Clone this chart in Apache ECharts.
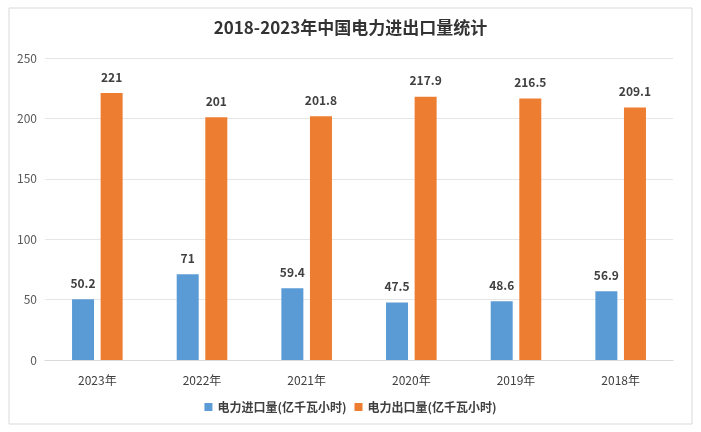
<!DOCTYPE html>
<html><head><meta charset="utf-8">
<script src="https://cdn.jsdelivr.net/npm/echarts@6/dist/echarts.min.js"></script>
<style>html,body{margin:0;padding:0;background:#fff}#c{width:701px;height:432px}</style>
</head><body><div id="c"></div>
<script>
const categories = ['2023年','2022年','2021年','2020年','2019年','2018年'];
const importVals = [50.2, 71, 59.4, 47.5, 48.6, 56.9];
const exportVals = [221, 201, 201.8, 217.9, 216.5, 209.1];
const seriesNames = ['电力进口量(亿千瓦小时)','电力出口量(亿千瓦小时)'];
const titleText = '2018-2023年中国电力进出口量统计';

const chart = echarts.init(document.getElementById('c'));
const font = '"Noto Sans CJK SC", sans-serif';
const lbl = {show:true, position:'top', distance:10, color:'#404040', fontWeight:'bold', fontSize:12, fontFamily:font};
chart.setOption({
  animation:false,
  graphic:[{type:'rect', shape:{x:9,y:8,width:683,height:416}, style:{fill:'none', stroke:'#d9d9d9', lineWidth:1}}],
  title:{text:titleText, left:'center', top:14, textStyle:{fontFamily:font, fontSize:17, fontWeight:'bold', color:'#333'}},
  legend:{bottom:14, left:'center', itemWidth:8, itemHeight:8, itemGap:8, icon:'rect',
    textStyle:{fontFamily:font, fontSize:12, fontWeight:'bold', color:'#404040'}},
  grid:{left:45, right:28, top:58, bottom:72, containLabel:false},
  xAxis:{type:'category', data:categories,
    axisLine:{lineStyle:{color:'#d9d9d9'}}, axisTick:{show:false},
    axisLabel:{color:'#404040', fontFamily:font, fontSize:12, margin:14}},
  yAxis:{type:'value', min:0, max:250, interval:50,
    axisLine:{show:false}, axisTick:{show:false},
    splitLine:{lineStyle:{color:'#e6e6e6'}},
    axisLabel:{color:'#595959', fontFamily:font, fontSize:12, margin:8}},
  series:[
    {name:seriesNames[0], type:'bar', data:importVals, barWidth:22, barGap:'30%', itemStyle:{color:'#5B9BD5'}, label:lbl},
    {name:seriesNames[1], type:'bar', data:exportVals, barWidth:22, itemStyle:{color:'#ED7D31'}, label:lbl}
  ]
});
</script></body></html>
